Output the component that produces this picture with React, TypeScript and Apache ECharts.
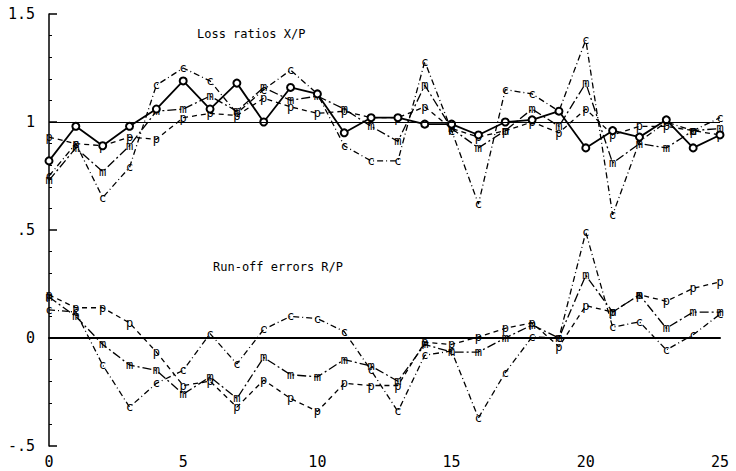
import React, { useEffect, useRef } from "react";
import * as echarts from "echarts";

const periods = Array.from({ length: 26 }, (_, i) => i);
const xTicks = ["0", "5", "10", "15", "20", "25"];
const yTickLabels: Record<string, string> = { "-0.5": "-.5", "0": "0", "0.5": ".5", "1": "1", "1.5": "1.5" };

// Loss ratios X/P
const lossSolid = [0.82, 0.98, 0.89, 0.98, 1.06, 1.19, 1.06, 1.18, 1.0, 1.16, 1.13, 0.95, 1.02, 1.02, 0.99, 0.99, 0.94, 1.0, 1.01, 1.05, 0.88, 0.96, 0.93, 1.01, 0.88, 0.94];
const lossC = [0.75, 0.9, 0.65, 0.79, 1.17, 1.25, 1.19, 1.04, 1.15, 1.24, 1.13, 0.89, 0.82, 0.82, 1.28, 0.96, 0.62, 1.15, 1.13, 1.05, 1.38, 0.57, 0.91, 1.0, 0.96, 1.02];
const lossM = [0.73, 0.88, 0.77, 0.89, 1.05, 1.06, 1.12, 1.05, 1.16, 1.1, 1.12, 1.06, 0.98, 0.91, 1.17, 0.97, 0.88, 0.96, 1.06, 0.98, 1.18, 0.81, 0.9, 0.88, 0.96, 0.97];
const lossP = [0.93, 0.9, 0.89, 0.93, 0.92, 1.02, 1.04, 1.03, 1.11, 1.07, 1.04, 1.05, 1.02, 1.02, 1.07, 0.97, 0.93, 0.96, 1.0, 0.95, 1.06, 0.94, 0.98, 0.98, 0.96, 0.94];

// Run-off errors R/P
const runC = [0.13, 0.12, -0.125, -0.32, -0.21, -0.15, 0.02, -0.12, 0.04, 0.1, 0.09, 0.03, -0.15, -0.34, -0.08, -0.06, -0.37, -0.16, 0.005, 0.0, 0.49, 0.05, 0.075, -0.055, 0.015, 0.11];
const runM = [0.19, 0.1, -0.03, -0.125, -0.15, -0.26, -0.18, -0.28, -0.09, -0.17, -0.18, -0.1, -0.13, -0.2, -0.03, -0.065, -0.065, 0.0, 0.06, 0.0, 0.29, 0.12, 0.2, 0.045, 0.12, 0.12];
const runP = [0.2, 0.14, 0.14, 0.07, -0.065, -0.22, -0.2, -0.32, -0.195, -0.28, -0.34, -0.21, -0.22, -0.22, -0.02, -0.03, 0.005, 0.045, 0.07, -0.04, 0.15, 0.12, 0.2, 0.17, 0.23, 0.26];

const titleLoss = "Loss ratios X/P";
const titleRun = "Run-off errors R/P";

const MONO = "DejaVu Sans Mono";

function pairs(vals: number[]) {
  return vals.map((v, i) => [periods[i], v]);
}

function letterSeries(name: string, vals: number[], letter: string, dash: number[]) {
  return {
    name,
    type: "line",
    data: pairs(vals),
    symbol: "circle",
    symbolSize: 1,
    showSymbol: true,
    itemStyle: { color: "rgba(0,0,0,0)" },
    lineStyle: { color: "#000", width: 1.3, type: dash },
    label: {
      show: true,
      position: "inside",
      formatter: letter,
      color: "#000",
      textBorderWidth: 0,
      textBorderColor: "transparent",
      fontFamily: MONO,
      fontSize: 12,
    },
    z: 3,
  };
}

export default function App() {
  const ref = useRef<HTMLDivElement>(null);
  useEffect(() => {
    if (!ref.current) return;
    const chart = echarts.init(ref.current, undefined, { renderer: "svg" });
    chart.setOption({
      animation: false,
      backgroundColor: "#fff",
      grid: { left: 49, right: 16, top: 14, bottom: 25 },
      xAxis: {
        type: "value",
        min: 0,
        max: 25,
        interval: 5,
        axisLine: { show: true, lineStyle: { color: "#000", width: 2 } },
        axisTick: { show: false },
        splitLine: { show: false },
        axisLabel: {
          color: "#000",
          fontFamily: MONO,
          fontSize: 15,
          margin: 8,
          formatter: (v: number) => xTicks[Math.round(v / 5)] ?? String(v),
        },
      },
      yAxis: {
        type: "value",
        min: -0.5,
        max: 1.5,
        interval: 0.5,
        axisLine: { show: true, lineStyle: { color: "#000", width: 1.5 } },
        axisTick: { show: true, inside: true, length: 8, lineStyle: { color: "#000", width: 1.5 } },
        minorTick: { show: true, splitNumber: 5, length: 3, lineStyle: { color: "#000" } },
        splitLine: { show: false },
        axisLabel: {
          color: "#000",
          fontFamily: MONO,
          fontSize: 15,
          margin: 14,
          formatter: (v: number) => yTickLabels[String(v)] ?? String(v),
        },
      },
      graphic: [
        { type: "text", left: 197, top: 28, style: { text: titleLoss, font: `12px "${MONO}"`, fill: "#000" } },
        { type: "text", left: 213, top: 261, style: { text: titleRun, font: `12px "${MONO}"`, fill: "#000" } },
      ],
      series: [
        {
          name: "Loss ratios",
          type: "line",
          data: pairs(lossSolid),
          symbol: "emptyCircle",
          symbolSize: 7,
          itemStyle: { color: "#000", borderColor: "#000", borderWidth: 1.3 },
          lineStyle: { color: "#000", width: 1.8 },
          z: 4,
          markLine: {
            silent: true,
            symbol: "none",
            label: { show: false },
            lineStyle: { color: "#000", type: "solid", width: 1 },
            data: [{ yAxis: 1 }],
          },
        },
        letterSeries("Loss c", lossC, "c", [6, 3, 1, 3]),
        letterSeries("Loss m", lossM, "m", [9, 3, 2, 3]),
        letterSeries("Loss p", lossP, "p", [5, 4]),
        {
          ...letterSeries("Run c", runC, "c", [6, 3, 1, 3]),
          markLine: {
            silent: true,
            symbol: "none",
            label: { show: false },
            lineStyle: { color: "#000", type: "solid", width: 2.2 },
            data: [{ yAxis: 0 }],
          },
        },
        letterSeries("Run m", runM, "m", [9, 3, 2, 3]),
        letterSeries("Run p", runP, "p", [5, 4]),
      ],
    });
    return () => chart.dispose();
  }, []);
  return <div ref={ref} style={{ width: 736, height: 471, position: "absolute", left: 0, top: 0 }} />;
}
